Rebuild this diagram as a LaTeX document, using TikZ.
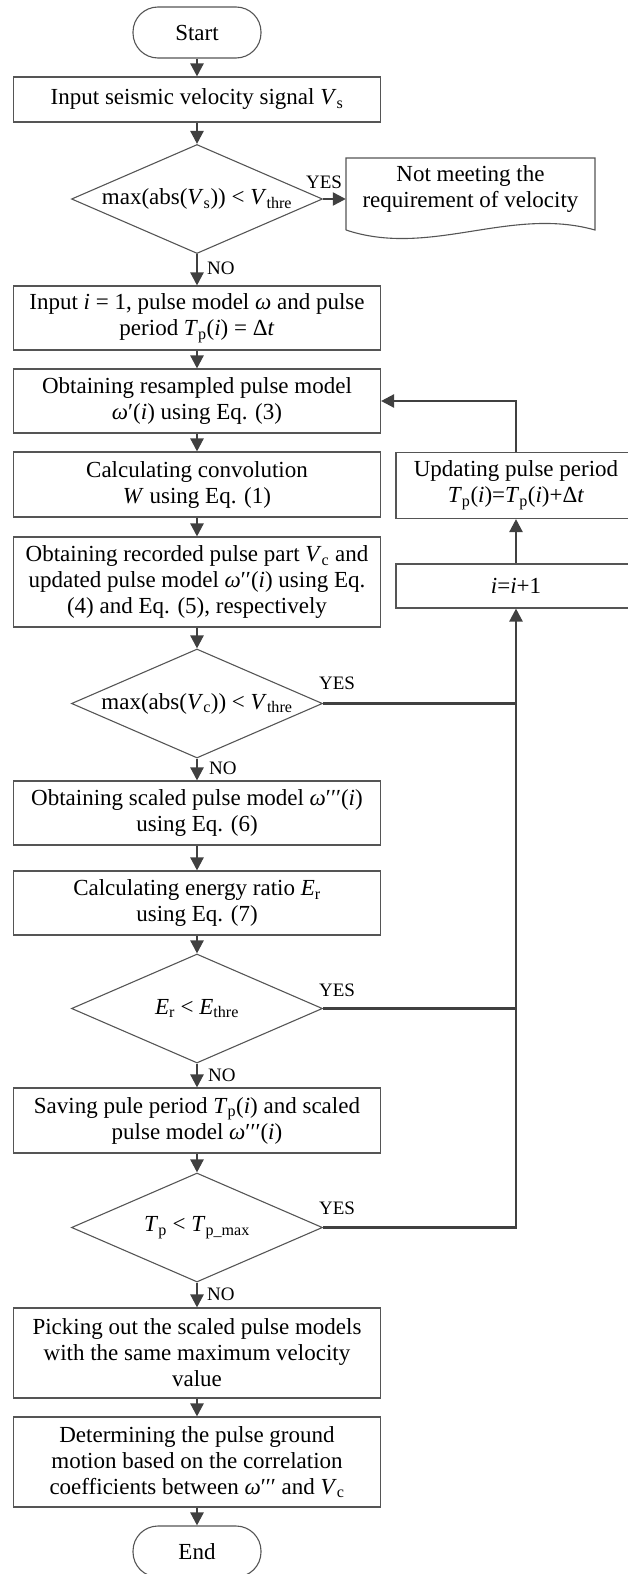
\documentclass[tikz,border=0pt]{standalone}
\usepackage{fontspec}
\setmainfont{Liberation Serif}
\usetikzlibrary{shapes.geometric,arrows.meta}
\definecolor{boxgray}{HTML}{555555}
\definecolor{linegray}{HTML}{404040}
\newcommand\mainfs{\fontsize{23}{26}\selectfont}
\newcommand\labfs{\fontsize{19}{22}\selectfont}
\newcommand\iv[1]{\textit{#1}}
\begin{document}
\begin{tikzpicture}[x=1pt,y=-1pt,
  box/.style={draw=boxgray, line width=1.1pt, rectangle, minimum width=367pt, align=center, inner sep=2pt, font=\mainfs},
  term/.style={draw=boxgray, line width=1.1pt, rounded corners=25pt, minimum width=128pt, minimum height=51pt, font=\mainfs},
  dec/.style={draw=boxgray, line width=1.1pt, diamond, minimum width=251pt, minimum height=109pt, inner sep=0pt},
  dtext/.style={font=\mainfs, inner sep=0pt},
  arr/.style={draw=linegray, line width=2.4pt, -{Triangle[length=13pt,width=13pt]}},
  conn/.style={draw=linegray, line width=2.4pt},
  lab/.style={font=\labfs, inner sep=0pt}
]
\useasboundingbox (0,0) rectangle (627,1574);

% main column
\node[term] (start) at (197,32.5) {Start};
\node[box, minimum height=45pt] (b1) at (197,99.5) {Input seismic velocity signal \iv{V}\textsubscript{s}};
\node[dec] (d1) at (197,199) {};
\node[dtext] (t1) at (d1) {max(abs(\iv{V}\textsubscript{s})) < \iv{V}\textsubscript{thre}};
\node[font=\mainfs, align=center, minimum width=249pt, inner sep=0pt] (doc) at (470.5,189) {Not meeting the\\requirement of velocity};
\draw[draw=boxgray, line width=1.1pt] (346,230) -- (346,158) -- (595,158) -- (595,230)
  .. controls (510,206) and (430,258) .. (346,230);

\node[box, minimum height=64pt] (b2) at (197,318) {Input \iv{i} = 1, pulse model \iv{ω} and pulse\\period \iv{T}\textsubscript{p}(\iv{i}) = Δ\iv{t}};
\node[box, minimum height=64pt] (b3) at (197,401) {Obtaining resampled pulse model\\\iv{ω}′(\iv{i}) using Eq. (3)};
\node[box, minimum height=65pt] (b4) at (197,484.5) {Calculating convolution\\\iv{W} using Eq. (1)};
\node[box, minimum height=90pt] (b5) at (197,582) {Obtaining recorded pulse part \iv{V}\textsubscript{c} and\\updated pulse model \iv{ω}′′(\iv{i}) using Eq.\\(4) and Eq. (5), respectively};
\node[dec] (d2) at (197,703.5) {};
\node[dtext] (t2) at (d2) {max(abs(\iv{V}\textsubscript{c})) < \iv{V}\textsubscript{thre}};
\node[box, minimum height=64pt] (b6) at (197,813) {Obtaining scaled pulse model \iv{ω}′′′(\iv{i})\\using Eq. (6)};
\node[box, minimum height=64pt] (b7) at (197,903) {Calculating energy ratio \iv{E}\textsubscript{r}\\using Eq. (7)};
\node[dec] (d3) at (197,1008.5) {};
\node[dtext] (t3) at (d3) {\iv{E}\textsubscript{r} < \iv{E}\textsubscript{thre}};
\node[box, minimum height=65pt] (b8) at (197,1120.5) {Saving pule period \iv{T}\textsubscript{p}(\iv{i}) and scaled\\pulse model \iv{ω}′′′(\iv{i})};
\node[dec] (d4) at (197,1227.5) {};
\node[dtext] (t4) at (d4) {\iv{T}\textsubscript{p} < \iv{T}\textsubscript{p\_max}};
\node[box, minimum height=90pt] (b9) at (197,1353) {Picking out the scaled pulse models\\with the same maximum velocity\\value};
\node[box, minimum height=90pt] (b10) at (197,1462) {Determining the pulse ground\\motion based on the correlation\\coefficients between \iv{ω}′′′ and \iv{V}\textsubscript{c}};
\node[term] (end) at (197,1551.5) {End};

% right column
\node[box, minimum width=240pt, minimum height=66pt] (upd) at (516,485.5) {Updating pulse period\\\iv{T}\textsubscript{p}(\iv{i})=\iv{T}\textsubscript{p}(\iv{i})+Δ\iv{t}};
\node[box, minimum width=240pt, minimum height=44pt] (inc) at (516,586) {\iv{i}=\iv{i}+1};

% connectors
\draw[arr] (start) -- (b1);
\draw[arr] (b1) -- (d1);
\draw[arr] (d1.east) -- (d1.east -| doc.west);
\draw[arr] (d1.south) -- (b2.north);
\draw[arr] (b2) -- (b3);
\draw[arr] (b3) -- (b4);
\draw[arr] (b4) -- (b5);
\draw[arr] (b5) -- (d2.north);
\draw[arr] (d2.south) -- (b6.north);
\draw[arr] (b6) -- (b7);
\draw[arr] (b7) -- (d3.north);
\draw[arr] (d3.south) -- (b8.north);
\draw[arr] (b8) -- (d4.north);
\draw[arr] (d4.south) -- (b9.north);
\draw[arr] (b9) -- (b10);
\draw[arr] (b10) -- (end);

\draw[arr] (d4.east) -| (inc.south);
\draw[conn] (d2.east) -- (d2.east -| inc.south);
\draw[conn] (d3.east) -- (d3.east -| inc.south);
\draw[arr] (inc.north) -- (upd.south);
\draw[arr] (upd.north) |- (b3.east);

% labels
\node[lab, xshift=1pt, yshift=17pt] (y1) at (d1.east) {YES};
\node[lab, xshift=14pt, yshift=20pt] (y2) at (d2.east) {YES};
\node[lab, xshift=14pt, yshift=18pt] (y3) at (d3.east) {YES};
\node[lab, xshift=14pt, yshift=19pt] (y4) at (d4.east) {YES};
\node[lab, anchor=west, xshift=10pt, yshift=-14pt] (n1) at (d1.south) {NO};
\node[lab, anchor=west, xshift=12pt, yshift=-10pt] (n2) at (d2.south) {NO};
\node[lab, anchor=west, xshift=11pt, yshift=-12pt] (n3) at (d3.south) {NO};
\node[lab, anchor=west, xshift=10pt, yshift=-12pt] (n4) at (d4.south) {NO};
\end{tikzpicture}
\end{document}
